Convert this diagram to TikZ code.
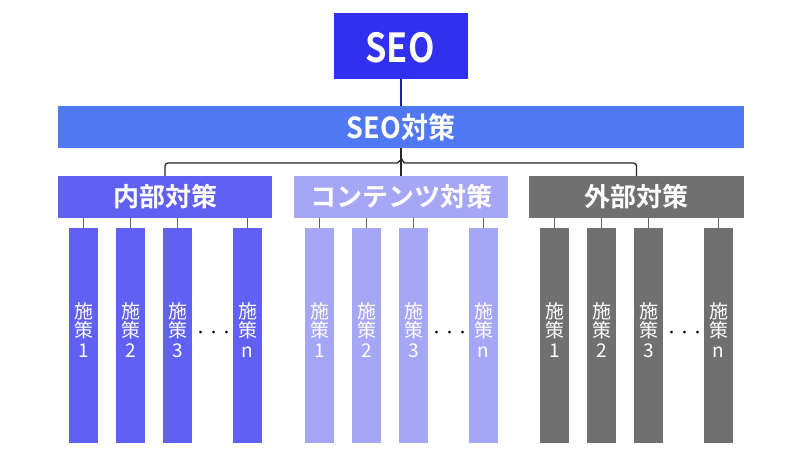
\documentclass[tikz,border=0pt]{standalone}
\usepackage{fontspec}
\newfontfamily\cjk{Noto Sans CJK JP}
\newfontfamily\cjkb{Noto Sans CJK JP Bold}
\newfontfamily\cjkbn[FakeStretch=0.86]{Noto Sans CJK JP Bold}
\newfontfamily\cjkbm[FakeStretch=0.93]{Noto Sans CJK JP Bold}
\begin{document}
\begin{tikzpicture}[x=1pt,y=-1pt,
  box/.style={inner sep=0pt, outer sep=0pt, text=white, align=center},
  conn/.style={line width=1.3pt, draw=black!85},
  stub/.style={line width=1pt, draw=black!60},
  barbox/.style={box, minimum width=29pt, minimum height=215pt, anchor=north west},
  cat/.style={box, minimum width=214pt, minimum height=42pt, anchor=north west, font=\cjkb\fontsize{26}{30}\selectfont},
]
\definecolor{seoblue}{HTML}{3030EE}
\definecolor{barblue}{HTML}{5078F2}
\definecolor{naibu}{HTML}{6060F2}
\definecolor{content}{HTML}{A6A6F6}
\definecolor{gaibu}{HTML}{707070}
\useasboundingbox (0,0) rectangle (800,450);
\fill[white] (0,0) rectangle (800,450);

\node[box, fill=seoblue, minimum width=134pt, minimum height=66pt, anchor=north west] (seo) at (334,13) {};
\node[box, font=\cjkbn\fontsize{40}{44}\selectfont] (seot) at (400,48) {SEO};
\node[box, fill=barblue, minimum width=686pt, minimum height=42pt, anchor=north west, font=\cjkbm\fontsize{29}{32}\selectfont] (taisaku) at (58,106) {SEO対策};
\draw[line width=1.2pt, draw=seoblue!70!black] (seo.south) -- (taisaku.north);

\node[cat, fill=naibu] (g1) at (58,176) {内部対策};
\node[cat, fill=content] (g2) at (294,176) {コンテンツ対策};
\node[cat, fill=gaibu, minimum width=215pt] (g3) at (529,176) {外部対策};

\coordinate (bt) at (401,163);
\draw[conn, rounded corners=3pt] (taisaku.south) -- (401,156) to[out=-90,in=0] (394,163) -- (g1.north |- bt) -- (g1.north);
\draw[conn, rounded corners=3pt] (401,156) to[out=-90,in=180] (408,163) -- (g3.north |- bt) -- (g3.north);
\draw[conn] (taisaku.south) -- (g2.north);

\foreach \g/\gx/\col in {1/58/naibu, 2/294/content, 3/529/gaibu}{
  \foreach \i/\off/\lab in {1/11/1, 2/58/2, 3/105/3, 4/175/n}{
    \node[barbox, fill=\col] (b\g\i) at (\gx+\off,228) {};
    \node[box, font=\cjk\fontsize{19}{19.5}\selectfont] (t\g\i) at (\gx+\off+14.5,330) {施\\策\\\lab};
    \draw[stub] (b\g\i.north) -- (b\g\i.north |- g\g.south);
  }
  \node[font=\cjk\fontsize{13}{15}\selectfont, text=black, inner sep=0pt] (d\g) at (\gx+155.5,334) {・・・};
}
\end{tikzpicture}
\end{document}
